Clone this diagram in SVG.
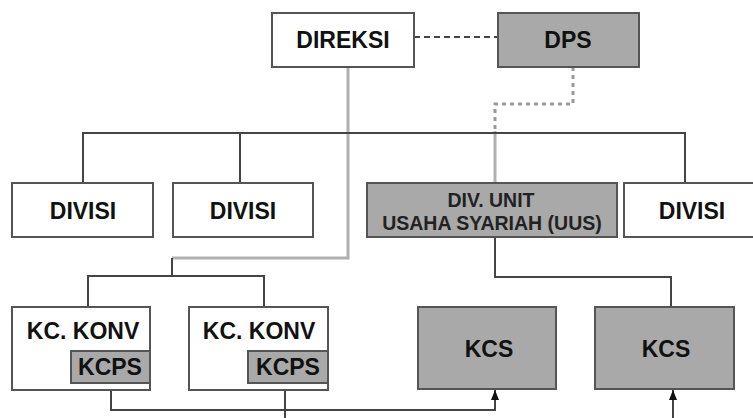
<svg xmlns="http://www.w3.org/2000/svg" width="753" height="418" viewBox="0 0 753 418">
<defs>
<style>
.box{fill:#fff;stroke:#555;stroke-width:2}
.gbox{fill:#a9a9a9;stroke:#555;stroke-width:2}
.t{font-family:"Liberation Sans",Arial,sans-serif;font-weight:bold;font-size:23px;fill:#111;text-anchor:middle}
.ts{font-family:"Liberation Sans",Arial,sans-serif;font-weight:bold;font-size:19.5px;fill:#222;text-anchor:middle}
.ln{fill:none;stroke:#444;stroke-width:2}
.lg{fill:none;stroke:#b0b0b0;stroke-width:3}
.dash{fill:none;stroke:#444;stroke-width:2;stroke-dasharray:6 4}
.dot{fill:none;stroke:#999;stroke-width:3;stroke-dasharray:4 4}
</style>
<marker id="ah" viewBox="0 0 10 8" refX="10" refY="4" markerWidth="10" markerHeight="8" markerUnits="userSpaceOnUse" orient="auto">
<path d="M0,0 L10,4 L0,8 Z" fill="#111"/>
</marker>
</defs>
<rect width="753" height="418" fill="#fff"/>
<g id="connectors">
<path class="dash" d="M414,37 H498"/>
<path class="dot" d="M573,67 V104 H495 V131"/>
<path class="lg" d="M495,131 V183"/>
<path class="lg" d="M348,67 V258 H172"/>
<path class="ln" d="M172,258 V276"/>
<path class="ln" d="M83,183 V133 H685 V183"/>
<path class="ln" d="M240,133 V183"/>
<path class="ln" d="M88,307 V276 H264 V307"/>
<path class="ln" d="M495,237 V277 H671 V307"/>
<path class="ln" d="M111,383 V410 H495 V390" marker-end="url(#ah)"/>
<path class="ln" d="M285,383 V425 H673 V390" marker-end="url(#ah)"/>
</g>
<g id="direksi"><rect class="box" x="272" y="13" width="142" height="54"/><text class="t" x="343" y="48">DIREKSI</text></g>
<g id="dps"><rect class="gbox" x="498" y="13" width="141" height="54"/><text class="t" x="568" y="48">DPS</text></g>
<g id="divisi1"><rect class="box" x="12" y="183" width="141" height="54"/><text class="t" x="83" y="219">DIVISI</text></g>
<g id="divisi2"><rect class="box" x="173" y="183" width="140" height="54"/><text class="t" x="243" y="219">DIVISI</text></g>
<g id="uus"><rect class="gbox" x="367" y="183" width="250" height="54"/><text class="ts" x="491" y="207">DIV. UNIT</text><text class="ts" x="492" y="230">USAHA SYARIAH (UUS)</text></g>
<g id="divisi3"><rect class="box" x="624" y="183" width="140" height="54"/><text class="t" x="692" y="219">DIVISI</text></g>
<g id="kckonv1"><rect class="box" x="12" y="307" width="138" height="83"/><text class="t" x="83" y="339">KC. KONV</text>
<g id="kcps1"><rect class="gbox" x="71" y="351" width="79" height="32"/><text class="t" x="110" y="375">KCPS</text></g></g>
<g id="kckonv2"><rect class="box" x="189" y="307" width="139" height="83"/><text class="t" x="259" y="339">KC. KONV</text>
<g id="kcps2"><rect class="gbox" x="248" y="351" width="80" height="32"/><text class="t" x="288" y="375">KCPS</text></g></g>
<g id="kcs1"><rect class="gbox" x="418" y="307" width="138" height="82"/><text class="t" x="489" y="357">KCS</text></g>
<g id="kcs2"><rect class="gbox" x="595" y="307" width="139" height="82"/><text class="t" x="666" y="357">KCS</text></g>
</svg>
